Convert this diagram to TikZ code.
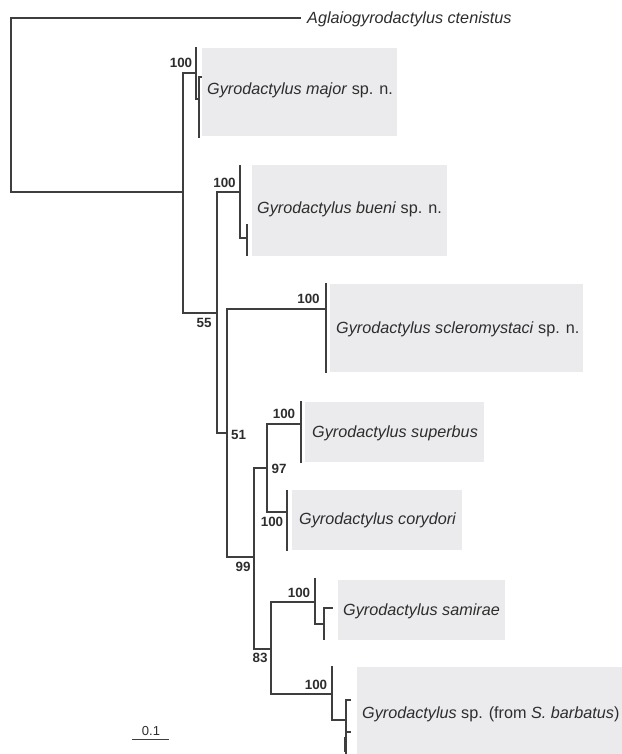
\documentclass[tikz,border=0pt]{standalone}
\usepackage{fontspec}
\setmainfont{Liberation Sans}
\definecolor{branchgray}{RGB}{62,62,62}
\definecolor{cladegray}{RGB}{235,235,237}
\definecolor{labelgray}{RGB}{45,45,45}

\begin{document}
\begin{tikzpicture}[x=1pt,y=-1pt,
  branch/.style={draw=branchgray,line width=1.3pt,line cap=rect},
  tipbar/.style={draw=branchgray,line width=2.6pt},
  clade/.style={fill=cladegray,inner sep=0pt,anchor=north west},
  taxon/.style={font=\fontsize{16.2}{18}\selectfont,text=labelgray,inner sep=0pt,anchor=west},
  boot/.style={font=\fontsize{13.4}{15}\selectfont\bfseries,text=labelgray,inner sep=0pt}]
  \useasboundingbox (0,0) rectangle (621,754);

  % Clade boxes
  \node[clade,minimum width=195pt,minimum height=88pt] (boxmaj) at (202,48) {};
  \node[clade,minimum width=195pt,minimum height=91pt] (boxbue) at (252,165) {};
  \node[clade,minimum width=253pt,minimum height=88pt] (boxscl) at (330,284) {};
  \node[clade,minimum width=179pt,minimum height=60pt] (boxsup) at (305,402) {};
  \node[clade,minimum width=170pt,minimum height=60pt] (boxcor) at (292,490) {};
  \node[clade,minimum width=167pt,minimum height=60pt] (boxsam) at (338,580) {};
  \node[clade,minimum width=270pt,minimum height=95pt] (boxbar) at (357,667) {};

  % Taxon names
  \node[taxon] (cte) at (307,19) {\textit{Aglaiogyrodactylus ctenistus}};
  \node[taxon] (maj) at (207,90) {\textit{Gyrodactylus major} sp. n.};
  \node[taxon] (bue) at (257,209) {\textit{Gyrodactylus bueni} sp. n.};
  \node[taxon] (scl) at (336,329) {\textit{Gyrodactylus scleromystaci} sp. n.};
  \node[taxon] (sup) at (312,433) {\textit{Gyrodactylus superbus}};
  \node[taxon] (cor) at (299,520) {\textit{Gyrodactylus corydori}};
  \node[taxon] (sam) at (343,611) {\textit{Gyrodactylus samirae}};
  \node[taxon] (bar) at (362,714) {\textit{Gyrodactylus} sp. (from \textit{S. barbatus})};

  % Internal nodes
  \coordinate (root) at (11,192);
  \coordinate (ing) at (183,192);
  \coordinate (out) at (300,18);
  \coordinate (cmaj) at (196,73);
  \coordinate (c55) at (217,313);
  \coordinate (cbue) at (240,192);
  \coordinate (c51) at (227,433);
  \coordinate (cscl) at (326,309);
  \coordinate (c99) at (254,557);
  \coordinate (c97) at (267,468);
  \coordinate (c83) at (271,649);
  \coordinate (csup) at (301,424);
  \coordinate (ccor) at (287,512);
  \coordinate (csam) at (315,602);
  \coordinate (cbar) at (332,694);

  % Backbone
  \draw[branch] (root) |- (out);
  \draw[branch] (root) -- (ing);
  \draw[branch] (ing) |- (cmaj);
  \draw[branch] (ing) |- (c55);
  \draw[branch] (c55) |- (cbue);
  \draw[branch] (c55) |- (c51);
  \draw[branch] (c51) |- (cscl);
  \draw[branch] (c51) |- (c99);
  \draw[branch] (c99) |- (c97);
  \draw[branch] (c99) |- (c83);
  \draw[branch] (c97) |- (csup);
  \draw[branch] (c97) |- (ccor);
  \draw[branch] (c83) |- (csam);
  \draw[branch] (c83) |- (cbar);

  % G. major
  \coordinate (maj1) at (196,48);
  \coordinate (majs) at (199,99);
  \coordinate (maj2) at (201,77);
  \coordinate (maj3) at (199,137);
  \draw[branch] (cmaj) -- (maj1);
  \draw[branch] (cmaj) |- (majs);
  \draw[branch] (majs) |- (maj2);
  \draw[branch] (majs) -- (maj3);

  % G. bueni
  \coordinate (bue1) at (240,166);
  \coordinate (bues) at (247,238);
  \coordinate (bue2) at (247,225);
  \coordinate (bue3) at (247,255);
  \draw[branch] (cbue) -- (bue1);
  \draw[branch] (cbue) |- (bues);
  \draw[branch] (bues) -- (bue2);
  \draw[branch] (bues) -- (bue3);
  \draw[tipbar] (240,195) -- (240,218);

  % G. scleromystaci
  \coordinate (scl1) at (326,284);
  \coordinate (scl2) at (326,372);
  \draw[branch] (scl1) -- (scl2);

  % G. superbus and G. corydori
  \coordinate (sup1) at (301,402);
  \coordinate (sup2) at (301,462);
  \draw[branch] (sup1) -- (sup2);
  \draw[tipbar] (301,431) -- (301,447);
  \coordinate (cor1) at (287,491);
  \coordinate (cor2) at (287,550);
  \draw[branch] (cor1) -- (cor2);

  % G. samirae
  \coordinate (sam1) at (315,579);
  \coordinate (sams) at (324,624);
  \coordinate (sam2) at (332,608);
  \coordinate (sam3) at (324,639);
  \draw[branch] (csam) -- (sam1);
  \draw[branch] (csam) |- (sams);
  \draw[branch] (sams) |- (sam2);
  \draw[branch] (sams) -- (sam3);

  % Gyrodactylus sp.
  \coordinate (bar1) at (332,667);
  \coordinate (bars) at (346,720);
  \coordinate (bar2) at (350,700);
  \coordinate (bar3) at (346,760);
  \coordinate (bar4) at (350,732);
  \draw[branch] (cbar) -- (bar1);
  \draw[branch] (cbar) |- (bars);
  \draw[branch] (bars) |- (bar2);
  \draw[branch] (bars) -- (bar3);
  \draw[branch] (bars |- bar4) -- (bar4);
  \draw[tipbar] (345,737) -- (345,752);

  % Bootstrap support
  \node[boot] (bmaj) at (181,63) {100};
  \node[boot] (bbue) at (224.5,183) {100};
  \node[boot] (b55) at (204,323) {55};
  \node[boot] (bscl) at (308.5,299) {100};
  \node[boot] (b51) at (238.5,435) {51};
  \node[boot] (b99) at (243,567) {99};
  \node[boot] (b97) at (279,469) {97};
  \node[boot] (bsup) at (284,414) {100};
  \node[boot] (bcor) at (272,522) {100};
  \node[boot] (b83) at (260,658) {83};
  \node[boot] (bsam) at (299,593) {100};
  \node[boot] (bbar) at (316,685) {100};

  % Scale bar
  \coordinate (sb1) at (132,739);
  \coordinate (sb2) at (169,739);
  \draw[draw=branchgray,line width=1pt] (sb1) -- (sb2);
  \node[font=\fontsize{13}{15}\selectfont,text=labelgray,inner sep=0pt] (sblabel) at (151,731) {0.1};
\end{tikzpicture}
\end{document}
